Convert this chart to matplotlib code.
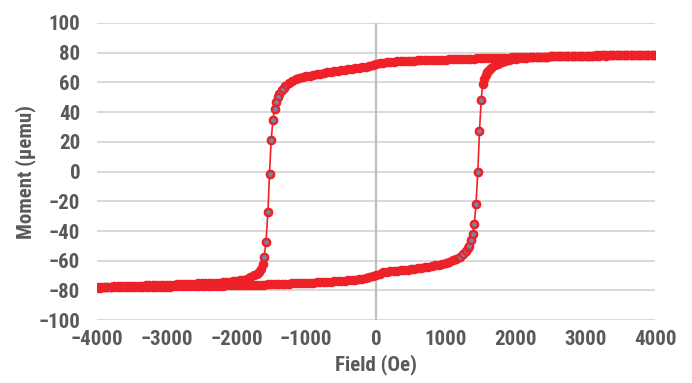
#!/usr/bin/env python3
"""Hysteresis loop: moment vs field, Excel-style scatter with lines."""
import matplotlib
matplotlib.use("Agg")
import matplotlib.pyplot as plt
import numpy as np
from matplotlib import font_manager

# descending sweep (+4000 -> -4000 Oe)
field_down = [
    4000, 3950, 3900, 3850, 3800, 3750, 3700, 3650, 3600, 3550, 3500, 3450, 3400, 3350, 3300, 3250, 3200, 3150, 3100, 3050,
    3000, 2950, 2900, 2850, 2800, 2750, 2700, 2650, 2600, 2550, 2500, 2450, 2400, 2350, 2300, 2250, 2200, 2150, 2100, 2050,
    2000, 1950, 1900, 1850, 1800, 1750, 1700, 1650, 1600, 1550, 1500, 1450, 1400, 1350, 1300, 1250, 1200, 1150, 1100, 1050,
    1000, 950, 900, 850, 800, 750, 700, 650, 600, 550, 500, 450, 400, 350, 300, 250, 200, 150, 100, 50,
    0, -50, -100, -150, -200, -250, -300, -350, -400, -450, -500, -550, -600, -650, -700, -750, -800, -850, -900, -950,
    -1000, -1050, -1100, -1150, -1200, -1250, -1300, -1325,
    -1349, -1384, -1412, -1435, -1455, -1478, -1503, -1527, -1550, -1578, -1603, -1625, -1650, -1675,
    -1700, -1750, -1800, -1850, -1900, -1950, -2000, -2050, -2100, -2150, -2200, -2250, -2300, -2350, -2400, -2450,
    -2500, -2550, -2600, -2650, -2700, -2750, -2800, -2850, -2900, -2950, -3000, -3050, -3100, -3150, -3200, -3250,
    -3300, -3350, -3400, -3450, -3500, -3550, -3600, -3650, -3700, -3750, -3800, -3850, -3900, -3950, -4000,
]
moment_down = [
    78.6, 78.6, 78.5, 78.6, 78.5, 78.4, 78.5, 78.4, 78.3, 78.4, 78.3, 78.2, 78.3, 78.2, 78.1, 78.2, 78.1, 78.0, 78.1, 78.0,
    77.9, 77.9, 77.8, 77.9, 77.8, 77.7, 77.7, 77.6, 77.6, 77.5, 77.5, 77.4, 77.4, 77.3, 77.2, 77.2, 77.1, 77.0, 77.0, 76.9,
    76.8, 76.8, 76.7, 76.6, 76.6, 76.5, 76.4, 76.4, 76.3, 76.2, 76.2, 76.1, 76.0, 75.9, 75.9, 75.8, 75.7, 75.6, 75.6, 75.5,
    75.4, 75.3, 75.2, 75.2, 75.1, 75.0, 74.9, 74.8, 74.8, 74.7, 74.6, 74.5, 74.4, 74.3, 74.2, 74.0, 73.9, 73.6, 73.3, 72.8,
    72.2, 71.4, 70.8, 70.4, 70.1, 69.8, 69.5, 69.2, 68.9, 68.6, 68.2, 67.9, 67.5, 67.1, 66.7, 66.3, 65.9, 65.4, 64.9, 64.5,
    64.0, 63.5, 62.8, 62.0, 60.9, 59.5, 57.6, 56.0,
    54.6, 52.3, 50.2, 46.8, 42.3, 34.7, 21.3, -1.3, -27.5, -47.4, -57.5, -62.4, -65.8, -67.4,
    -68.6, -69.9, -71.0, -72.0, -72.7, -73.2, -73.6, -73.9, -74.1, -74.3, -74.5, -74.7, -74.8, -74.9, -75.0, -75.1,
    -75.2, -75.3, -75.4, -75.5, -75.6, -75.7, -75.8, -75.9, -76.0, -76.0, -76.1, -76.2, -76.3, -76.4, -76.5, -76.5,
    -76.6, -76.7, -76.8, -76.9, -77.0, -77.0, -77.1, -77.2, -77.3, -77.3, -77.4, -77.5, -77.5, -77.6, -77.7,
]

# ascending sweep (-4000 -> +4000 Oe)
field_up = [
    -4000, -3950, -3900, -3850, -3800, -3750, -3700, -3650, -3600, -3550, -3500, -3450, -3400, -3350, -3300, -3250, -3200, -3150, -3100, -3050,
    -3000, -2950, -2900, -2850, -2800, -2750, -2700, -2650, -2600, -2550, -2500, -2450, -2400, -2350, -2300, -2250, -2200, -2150, -2100, -2050,
    -2000, -1950, -1900, -1850, -1800, -1750, -1700, -1650, -1600, -1550, -1500, -1450, -1400, -1350, -1300, -1250, -1200, -1150, -1100, -1050,
    -1000, -950, -900, -850, -800, -750, -700, -650, -600, -550, -500, -450, -400, -350, -300, -250, -200, -150, -100, -50,
    0, 50, 100, 150, 200, 250, 300, 350, 400, 450, 500, 550, 600, 650, 700, 750, 800, 850, 900, 950,
    1000, 1050, 1100, 1150, 1200, 1250,
    1290, 1313, 1336, 1360, 1383, 1407, 1431, 1457, 1481, 1505, 1527, 1548, 1570, 1595, 1620,
    1650, 1700, 1750, 1800, 1850, 1900, 1950, 2000, 2050, 2100, 2150, 2200, 2250, 2300, 2350, 2400,
    2450, 2500, 2550, 2600, 2650, 2700, 2750, 2800, 2850, 2900, 2950, 3000, 3050, 3100, 3150, 3200,
    3250, 3300, 3350, 3400, 3450, 3500, 3550, 3600, 3650, 3700, 3750, 3800, 3850, 3900, 3950, 4000,
]
moment_up = [
    -78.1, -78.1, -78.0, -78.0, -78.0, -77.9, -77.9, -77.9, -77.8, -77.8, -77.8, -77.7, -77.7, -77.7, -77.6, -77.6, -77.6, -77.5, -77.5, -77.5,
    -77.4, -77.4, -77.3, -77.3, -77.3, -77.2, -77.2, -77.1, -77.1, -77.0, -77.0, -76.9, -76.9, -76.8, -76.8, -76.7, -76.7, -76.6, -76.6, -76.5,
    -76.5, -76.4, -76.4, -76.3, -76.3, -76.2, -76.1, -76.1, -76.0, -75.9, -75.9, -75.8, -75.7, -75.6, -75.5, -75.4, -75.3, -75.2, -75.1, -75.0,
    -74.9, -74.8, -74.7, -74.6, -74.4, -74.3, -74.1, -74.0, -73.8, -73.6, -73.5, -73.3, -73.1, -72.9, -72.7, -72.4, -72.1, -71.7, -71.2, -70.6,
    -69.8, -68.7, -67.8, -67.3, -67.0, -66.8, -66.6, -66.4, -66.2, -65.9, -65.6, -65.3, -65.0, -64.6, -64.3, -63.9, -63.5, -63.1, -62.6, -62.0,
    -61.4, -60.7, -59.8, -58.7, -57.3, -55.4,
    -53.3, -51.6, -49.8, -46.0, -41.8, -35.0, -22.0, 0.0, 27.0, 48.0, 59.0, 62.6, 65.3, 67.2, 68.6,
    69.8, 71.4, 72.7, 73.7, 74.4, 75.0, 75.5, 75.9, 76.2, 76.5, 76.7, 76.9, 77.0, 77.1, 77.2, 77.3,
    77.4, 77.5, 77.5, 77.6, 77.7, 77.7, 77.8, 77.8, 77.9, 77.9, 78.0, 78.0, 78.1, 78.1, 78.2, 78.2,
    78.2, 78.3, 78.3, 78.3, 78.4, 78.4, 78.4, 78.5, 78.5, 78.5, 78.6, 78.6, 78.6, 78.7, 78.7, 78.7,
]

x_ticks = [-4000, -3000, -2000, -1000, 0, 1000, 2000, 3000, 4000]
y_ticks = [-100, -80, -60, -40, -20, 0, 20, 40, 60, 80, 100]

RED = "#EE2128"
CORE = "#7088AA"
TEXT = "#595959"


def pick_font():
    for name in ["Liberation Sans Narrow", "Roboto Condensed", "Liberation Sans"]:
        try:
            font_manager.findfont(font_manager.FontProperties(family=name), fallback_to_default=False)
            return name
        except Exception:
            continue
    return "DejaVu Sans"


def main():
    plt.rcParams["font.family"] = [pick_font(), "DejaVu Sans"]
    fig = plt.figure(figsize=(6.92, 3.83), dpi=100)
    ax = fig.add_axes([0.140, 0.164, 0.807, 0.776])

    for fx, my in [(field_down, moment_down), (field_up, moment_up)]:
        fx = np.asarray(fx, float)
        my = np.asarray(my, float)
        # dense part of the sweep: markers overlap into a solid red band
        ax.plot(fx, my, color=RED, lw=1.2, marker="o", ms=5.8, mfc=RED, mec=RED, mew=1.1, zorder=3)
        # sparse switching points: markers keep their grey-blue core
        sw = np.abs(my) < 58
        ax.plot(fx[sw], my[sw], ls="none", marker="o", ms=5.0, mfc=CORE, mec=RED, mew=1.6, zorder=4)

    ax.axvline(0, color="#BFBFBF", lw=1.6, zorder=1)
    ax.set_xlim(-4000, 4000)
    ax.set_ylim(-100, 100)
    ax.set_xticks(x_ticks)
    ax.set_yticks(y_ticks)
    ax.yaxis.grid(True, color="#D9D9D9", lw=1.4)
    ax.set_axisbelow(True)
    for s in ax.spines.values():
        s.set_visible(False)
    ax.tick_params(axis="both", length=0, labelsize=15, labelcolor=TEXT)
    ax.tick_params(axis="y", pad=12)
    ax.tick_params(axis="x", pad=7)
    for lab in ax.get_xticklabels() + ax.get_yticklabels():
        lab.set_fontweight("bold")
    ax.set_xlabel("Field (Oe)", fontsize=15, fontweight="bold", color=TEXT, labelpad=4)
    ax.set_ylabel("Moment (μemu)", fontsize=15, fontweight="bold", color=TEXT, labelpad=2)

    fig.savefig("out.png", dpi=100)
    plt.close(fig)


if __name__ == "__main__":
    main()
